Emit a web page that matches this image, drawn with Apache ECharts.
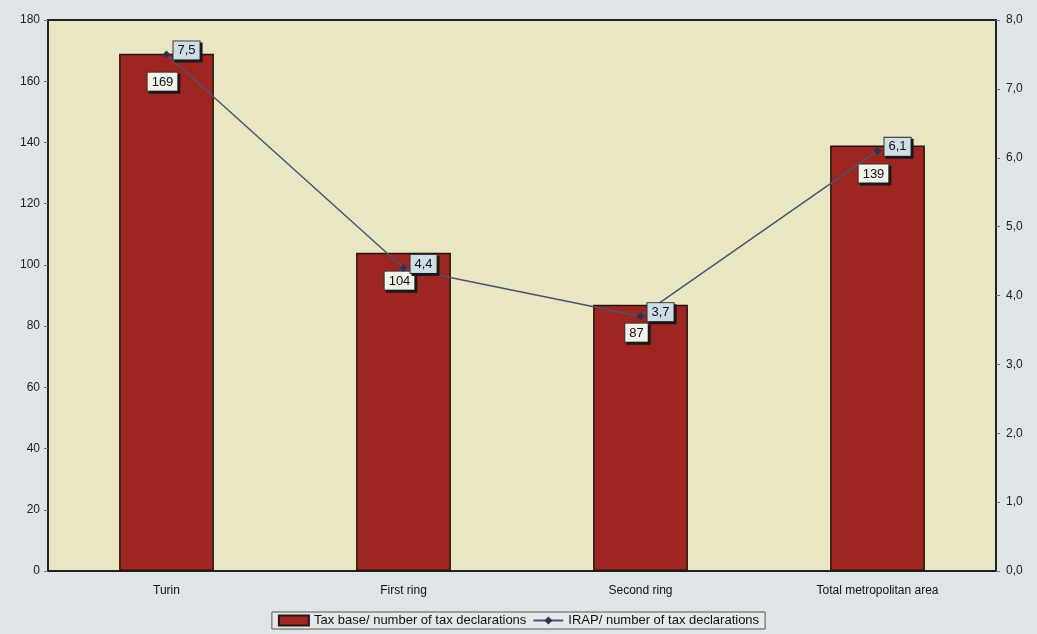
<!DOCTYPE html>
<html>
<head>
<meta charset="utf-8">
<script src="https://cdn.jsdelivr.net/npm/echarts@6/dist/echarts.min.js"></script>
<style>
  html, body { margin: 0; padding: 0; background: #dfe4e8; }
  #chart { width: 1037px; height: 634px; }
</style>
</head>
<body>
<div id="chart"></div>
<script>
// Categories and values
const categories = ['Turin', 'First ring', 'Second ring', 'Total metropolitan area'];
const taxBase = [169, 104, 87, 139];          // Tax base / number of tax declarations
const irap = [7.5, 4.4, 3.7, 6.1];            // IRAP / number of tax declarations
const leftTicks = { min: 0, max: 180, interval: 20 };
const rightTicks = { min: 0, max: 8, interval: 1 };

const chart = echarts.init(document.getElementById('chart'));
const fontFamily = '"Liberation Sans", Arial, sans-serif';

chart.setOption({
  backgroundColor: '#dfe4e8',
  animation: false,
  textStyle: { fontFamily },
  grid: { left: 48, right: 41, top: 20, bottom: 63, show: true, backgroundColor: '#e9e7c3', borderColor: '#222', borderWidth: 2 },
  legend: {
    bottom: 5,
    left: 'center',
    itemGap: 6,
    padding: [2, 6],
    borderColor: '#555',
    borderWidth: 1,
    backgroundColor: '#e6e9ea',
    textStyle: { fontSize: 13, color: '#111', fontFamily },
    data: [
      { name: 'Tax base/ number of tax declarations', icon: 'rect', itemStyle: { color: '#9e2620' } },
      { name: 'IRAP/ number of tax declarations' }
    ],
    itemWidth: 30,
    itemHeight: 10
  },
  xAxis: {
    type: 'category',
    data: categories,
    axisLine: { show: true, lineStyle: { color: '#222', width: 2 } },
    axisTick: { show: false },
    axisLabel: { color: '#111', fontSize: 12, margin: 14 }
  },
  yAxis: [
    {
      type: 'value',
      min: leftTicks.min, max: leftTicks.max, interval: leftTicks.interval,
      splitLine: { show: false },
      axisLine: { show: true, lineStyle: { color: '#222', width: 2 } },
      axisTick: { show: true, length: 4, lineStyle: { color: '#777' } },
      axisLabel: { color: '#222', fontSize: 12, margin: 8 }
    },
    {
      type: 'value',
      min: rightTicks.min, max: rightTicks.max, interval: rightTicks.interval,
      splitLine: { show: false },
      axisLine: { show: true, lineStyle: { color: '#222', width: 2 } },
      axisTick: { show: true, length: 4, lineStyle: { color: '#777' } },
      axisLabel: {
        color: '#222', fontSize: 12, margin: 10,
        formatter: v => v.toFixed(1).replace('.', ',')
      }
    }
  ],
  series: [
    {
      name: 'Tax base/ number of tax declarations',
      type: 'bar',
      data: taxBase,
      barWidth: '40%',
      itemStyle: { color: '#9e2620', borderColor: '#2a1210', borderWidth: 1.5 },
      label: {
        show: true,
        position: 'insideTop',
        distance: 19,
        offset: [-4, 0],
        color: '#111',
        fontSize: 13,
        backgroundColor: '#f2f1ea',
        borderColor: '#333',
        borderWidth: 1,
        padding: [3, 4, 2, 4],
        shadowColor: '#1a1a1a',
        shadowOffsetX: 2,
        shadowOffsetY: 2,
        shadowBlur: 0
      },
      z: 2
    },
    {
      name: 'IRAP/ number of tax declarations',
      type: 'line',
      yAxisIndex: 1,
      data: irap,
      symbol: 'diamond',
      symbolSize: 8,
      lineStyle: { color: '#4a5470', width: 1.5 },
      itemStyle: { color: '#2c3450' },
      label: {
        show: true,
        position: 'right',
        distance: 3,
        offset: [0, -4],
        color: '#111',
        fontSize: 13,
        formatter: p => p.value.toFixed(1).replace('.', ','),
        backgroundColor: '#cfdde6',
        borderColor: '#333',
        borderWidth: 1,
        padding: [3, 4, 2, 4],
        shadowColor: '#1a1a1a',
        shadowOffsetX: 2,
        shadowOffsetY: 2,
        shadowBlur: 0
      },
      z: 3
    }
  ]
});
</script>
</body>
</html>
